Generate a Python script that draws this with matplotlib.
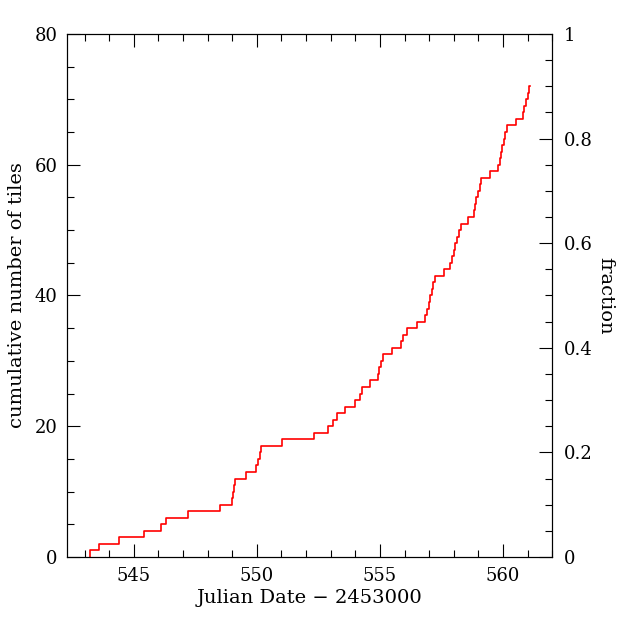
import numpy as np
import matplotlib
matplotlib.use("Agg")
import matplotlib.pyplot as plt
from matplotlib.ticker import MultipleLocator, FuncFormatter

# ── DATA ─────────────────────────────────────────────────────────
# Julian date (- 2453000) at which each tile was observed
tile_times = [
    543.22, 543.58, 544.40, 545.43, 546.10, 546.30, 547.21, 548.51,
    548.98, 549.02, 549.06, 549.13, 549.56, 549.98, 550.05, 550.12,
    550.17, 551.01, 552.31, 552.89, 553.08, 553.26, 553.57, 553.99,
    554.18, 554.26, 554.60, 554.92, 554.98, 555.06, 555.13, 555.49,
    555.86, 555.94, 556.10, 556.52, 556.85, 556.91, 556.98, 557.03,
    557.10, 557.16, 557.25, 557.60, 557.86, 557.93, 557.99, 558.05,
    558.12, 558.20, 558.29, 558.58, 558.80, 558.86, 558.92, 558.98,
    559.05, 559.12, 559.47, 559.81, 559.87, 559.92, 559.96, 560.02,
    560.08, 560.16, 560.54, 560.80, 560.87, 560.93, 561.00, 561.07,
]
end_time = 561.11          # line stops just after the last tile
total_tiles = 80           # fraction axis: 80 tiles = 1

XLIM = (542.3, 562.0)
YLIM = (0, 80)

# cumulative count, starting from zero at the first tile
x = [tile_times[0]] + tile_times + [end_time]
counts = np.arange(len(tile_times) + 1)
y = list(counts) + [counts[-1]]

# ── PLOT ─────────────────────────────────────────────────────────
plt.rcParams["font.family"] = ["DejaVu Serif"]
TICK_FS  = 13
LABEL_FS = 14

fig = plt.figure(figsize=(6.23, 6.23), dpi=100)
ax = fig.add_axes([0.108, 0.106, 0.7785, 0.8395])

ax.step(x, y, where="post", color="red", linewidth=1.2)

ax.set_xlim(*XLIM)
ax.set_ylim(*YLIM)
ax.xaxis.set_major_locator(MultipleLocator(5))
ax.xaxis.set_minor_locator(MultipleLocator(1))
ax.yaxis.set_major_locator(MultipleLocator(20))
ax.yaxis.set_minor_locator(MultipleLocator(5))
ax.tick_params(which="both", direction="in", top=True, right=False,
               width=0.8, labelsize=TICK_FS, pad=7)
ax.tick_params(which="major", length=9.5)
ax.tick_params(which="minor", length=4.8)
for sp in ax.spines.values():
    sp.set_linewidth(0.8)

ax.set_xlabel("Julian Date \u2212 2453000", fontsize=LABEL_FS, labelpad=3)
ax.set_ylabel("cumulative number of tiles", fontsize=LABEL_FS, labelpad=6)

# right-hand fraction axis
ax2 = ax.twinx()
ax2.set_ylim(YLIM[0] / total_tiles, YLIM[1] / total_tiles)
ax2.yaxis.set_major_locator(MultipleLocator(0.2))
ax2.yaxis.set_minor_locator(MultipleLocator(0.05))
ax2.yaxis.set_major_formatter(FuncFormatter(lambda v, p: f"{v:g}"))
ax2.tick_params(which="both", direction="in", width=0.8, labelsize=TICK_FS, pad=8)
ax2.tick_params(which="major", length=9.5)
ax2.tick_params(which="minor", length=4.8)
for sp in ax2.spines.values():
    sp.set_linewidth(0.8)
ax2.set_ylabel("fraction", fontsize=LABEL_FS, rotation=-90, labelpad=16)

fig.savefig("out.png", dpi=100)
